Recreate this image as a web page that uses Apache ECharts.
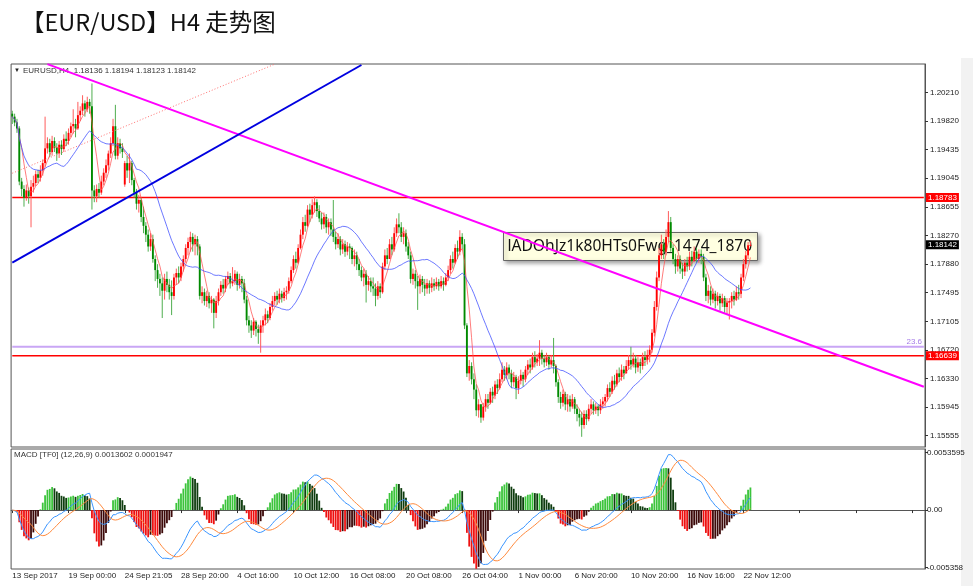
<!DOCTYPE html>
<html><head><meta charset="utf-8">
<script src="https://cdn.jsdelivr.net/npm/echarts@6/dist/echarts.min.js"></script>
<style>html,body{margin:0;padding:0;background:#fff}#c{width:973px;height:586px}</style>
</head><body><div id="c"></div><script>
// ---- data (EUR/USD H4) ----
const timeLabels = ['13 Sep 2017','19 Sep 00:00','24 Sep 21:05','28 Sep 20:00','4 Oct 16:00','10 Oct 12:00','16 Oct 08:00','20 Oct 08:00','26 Oct 04:00','1 Nov 00:00','6 Nov 20:00','10 Nov 20:00','16 Nov 16:00','22 Nov 12:00'];
const barsPerLabel = 24;
const totalSlots = 390;
const closes = [
1.1988,1.1980,1.1972,1.1900,1.1890,1.1878,1.1888,1.1880,1.1893,1.1898,
1.1910,1.1905,1.1915,1.1925,1.1945,1.1952,1.1940,1.1955,1.1946,1.1938,
1.1950,1.1944,1.1958,1.1955,1.1966,1.1975,1.1978,1.1972,1.1990,1.1996,
1.2006,1.1998,1.2008,1.2002,1.1888,1.1880,1.1890,1.1885,1.1900,1.1912,
1.1922,1.1938,1.1952,1.1975,1.1935,1.1952,1.1945,1.1940,1.1925,1.1915,
1.1925,1.1902,1.1885,1.1870,1.1875,1.1852,1.1840,1.1828,1.1812,1.1822,
1.1795,1.1780,1.1768,1.1762,1.1752,1.1768,1.1760,1.1750,1.1745,1.1770,
1.1776,1.1770,1.1785,1.1795,1.1810,1.1818,1.1825,1.1815,1.1822,1.1812,
1.1745,1.1750,1.1738,1.1745,1.1735,1.1740,1.1722,1.1738,1.1750,1.1760,
1.1755,1.1768,1.1772,1.1762,1.1765,1.1775,1.1760,1.1768,1.1762,1.1740,
1.1712,1.1705,1.1698,1.1710,1.1700,1.1695,1.1705,1.1712,1.1720,1.1715,
1.1730,1.1738,1.1745,1.1740,1.1748,1.1742,1.1750,1.1752,1.1765,1.1780,
1.1795,1.1790,1.1810,1.1828,1.1845,1.1840,1.1862,1.1855,1.1868,1.1872,
1.1860,1.1850,1.1842,1.1852,1.1838,1.1845,1.1835,1.1825,1.1815,1.1822,
1.1808,1.1815,1.1805,1.1812,1.1810,1.1795,1.1800,1.1788,1.1780,1.1770,
1.1775,1.1760,1.1765,1.1758,1.1755,1.1745,1.1758,1.1750,1.1785,1.1800,
1.1795,1.1815,1.1808,1.1830,1.1842,1.1838,1.1825,1.1830,1.1812,1.1800,
1.1768,1.1775,1.1765,1.1758,1.1768,1.1760,1.1755,1.1762,1.1756,1.1762,
1.1758,1.1764,1.1758,1.1765,1.1760,1.1770,1.1780,1.1795,1.1790,1.1810,
1.1805,1.1825,1.1815,1.1705,1.1640,1.1650,1.1632,1.1618,1.1590,1.1598,
1.1580,1.1595,1.1605,1.1600,1.1615,1.1610,1.1625,1.1620,1.1632,1.1645,
1.1638,1.1648,1.1640,1.1628,1.1635,1.1620,1.1630,1.1638,1.1632,1.1645,
1.1652,1.1648,1.1662,1.1655,1.1660,1.1668,1.1660,1.1655,1.1662,1.1652,
1.1658,1.1650,1.1628,1.1608,1.1600,1.1612,1.1598,1.1605,1.1595,1.1605,
1.1592,1.1585,1.1580,1.1570,1.1585,1.1578,1.1592,1.1598,1.1590,1.1595,
1.1590,1.1598,1.1602,1.1608,1.1620,1.1615,1.1630,1.1625,1.1640,1.1635,
1.1645,1.1640,1.1650,1.1658,1.1652,1.1660,1.1648,1.1655,1.1650,1.1662,
1.1658,1.1665,1.1672,1.1695,1.1730,1.1770,1.1800,1.1815,1.1805,1.1825,
1.1845,1.1810,1.1795,1.1785,1.1795,1.1782,1.1778,1.1790,1.1785,1.1798,
1.1792,1.1805,1.1795,1.1802,1.1798,1.1770,1.1745,1.1752,1.1740,1.1748,
1.1738,1.1745,1.1735,1.1742,1.1730,1.1736,1.1738,1.1745,1.1740,1.1750,
1.1748,1.1770,1.1788,1.1800,1.18136,1.18142];
const highs = [
1.1996,1.1992,1.1985,1.1975,1.1905,1.1895,1.1896,1.1892,1.1902,1.1908,
1.1915,1.1916,1.1922,1.1930,1.1988,1.1960,1.1958,1.1962,1.1960,1.1952,
1.1955,1.1956,1.1964,1.1968,1.1972,1.1980,1.1998,1.1985,1.2008,1.2002,
1.2017,1.2010,1.2015,1.2012,1.2033,1.1895,1.1896,1.1898,1.1908,1.1918,
1.1930,1.1942,1.1960,1.1985,1.2004,1.1960,1.1958,1.1952,1.1928,1.1935,
1.1938,1.1928,1.1905,1.1890,1.1882,1.1878,1.1866,1.1845,1.1835,1.1830,
1.1828,1.1800,1.1788,1.1775,1.1770,1.1775,1.1778,1.1768,1.1766,1.1775,
1.1782,1.1785,1.1790,1.1800,1.1815,1.1824,1.1832,1.1830,1.1828,1.1826,
1.1815,1.1758,1.1755,1.1752,1.1750,1.1745,1.1742,1.1745,1.1755,1.1765,
1.1768,1.1772,1.1778,1.1776,1.1784,1.1780,1.1778,1.1775,1.1772,1.1768,
1.1745,1.1718,1.1712,1.1715,1.1712,1.1706,1.1712,1.1718,1.1728,1.1725,
1.1735,1.1745,1.1750,1.1752,1.1755,1.1752,1.1756,1.1758,1.1770,1.1785,
1.1800,1.1805,1.1815,1.1835,1.1852,1.1855,1.1868,1.1870,1.1876,1.1880,
1.1876,1.1868,1.1858,1.1858,1.1856,1.1850,1.1850,1.1875,1.1832,1.1830,
1.1826,1.1822,1.1820,1.1818,1.1816,1.1812,1.1808,1.1805,1.1795,1.1785,
1.1782,1.1780,1.1772,1.1770,1.1770,1.1762,1.1765,1.1762,1.1790,1.1808,
1.1810,1.1822,1.1825,1.1838,1.1850,1.1857,1.1845,1.1838,1.1835,1.1818,
1.1805,1.1782,1.1780,1.1772,1.1774,1.1772,1.1768,1.1768,1.1766,1.1770,
1.1768,1.1770,1.1768,1.1772,1.1770,1.1776,1.1786,1.1800,1.1805,1.1815,
1.1820,1.1834,1.1830,1.1822,1.1708,1.1658,1.1655,1.1640,1.1625,1.1605,
1.1598,1.1600,1.1612,1.1612,1.1620,1.1622,1.1630,1.1632,1.1640,1.1655,
1.1650,1.1655,1.1652,1.1645,1.1642,1.1638,1.1636,1.1645,1.1642,1.1650,
1.1658,1.1660,1.1668,1.1670,1.1666,1.1685,1.1672,1.1665,1.1668,1.1665,
1.1665,1.1688,1.1652,1.1632,1.1615,1.1618,1.1615,1.1612,1.1610,1.1612,
1.1608,1.1598,1.1592,1.1588,1.1590,1.1590,1.1598,1.1605,1.1602,1.1600,
1.1598,1.1605,1.1608,1.1612,1.1625,1.1628,1.1636,1.1638,1.1645,1.1648,
1.1652,1.1650,1.1658,1.1665,1.1676,1.1668,1.1665,1.1662,1.1660,1.1668,
1.1670,1.1672,1.1678,1.1700,1.1738,1.1778,1.1810,1.1828,1.1822,1.1835,
1.1860,1.1852,1.1815,1.1802,1.1800,1.1800,1.1790,1.1795,1.1798,1.1805,
1.1806,1.1812,1.1810,1.1808,1.1808,1.1802,1.1775,1.1760,1.1758,1.1755,
1.1752,1.1750,1.1748,1.1748,1.1745,1.1742,1.1742,1.1750,1.1752,1.1758,
1.1760,1.1775,1.1795,1.1806,1.1818,1.18194];
const lows = [
1.1978,1.1975,1.1966,1.1895,1.1880,1.1866,1.1874,1.1870,1.1838,1.1885,
1.1894,1.1898,1.1900,1.1908,1.1920,1.1938,1.1933,1.1935,1.1940,1.1928,
1.1932,1.1936,1.1940,1.1948,1.1950,1.1960,1.1965,1.1960,1.1970,1.1982,
1.1990,1.1988,1.1994,1.1992,1.1862,1.1872,1.1872,1.1878,1.1882,1.1895,
1.1905,1.1915,1.1932,1.1948,1.1930,1.1930,1.1938,1.1932,1.1893,1.1905,
1.1898,1.1895,1.1878,1.1862,1.1858,1.1845,1.1830,1.1818,1.1805,1.1806,
1.1790,1.1765,1.1756,1.1745,1.1715,1.1740,1.1750,1.1740,1.1719,1.1740,
1.1760,1.1762,1.1765,1.1778,1.1790,1.1800,1.1805,1.1805,1.1800,1.1800,
1.1740,1.1735,1.1732,1.1730,1.1728,1.1722,1.1701,1.1715,1.1732,1.1745,
1.1748,1.1750,1.1760,1.1755,1.1758,1.1760,1.1752,1.1755,1.1750,1.1735,
1.1705,1.1695,1.1688,1.1692,1.1690,1.1680,1.1668,1.1695,1.1705,1.1708,
1.1712,1.1725,1.1732,1.1733,1.1735,1.1736,1.1738,1.1740,1.1748,1.1762,
1.1776,1.1782,1.1788,1.1808,1.1822,1.1832,1.1838,1.1845,1.1850,1.1858,
1.1852,1.1845,1.1835,1.1836,1.1830,1.1828,1.1826,1.1818,1.1808,1.1810,
1.1800,1.1802,1.1798,1.1800,1.1795,1.1788,1.1785,1.1780,1.1772,1.1765,
1.1758,1.1736,1.1752,1.1750,1.1745,1.1731,1.1740,1.1742,1.1748,1.1780,
1.1788,1.1795,1.1800,1.1805,1.1825,1.1830,1.1818,1.1815,1.1805,1.1795,
1.1762,1.1760,1.1755,1.1726,1.1748,1.1750,1.1745,1.1748,1.1748,1.1750,
1.1752,1.1754,1.1752,1.1755,1.1752,1.1758,1.1765,1.1775,1.1782,1.1788,
1.1795,1.1800,1.1808,1.1700,1.1635,1.1630,1.1625,1.1605,1.1582,1.1580,
1.1573,1.1576,1.1588,1.1592,1.1598,1.1600,1.1605,1.1612,1.1618,1.1628,
1.1630,1.1632,1.1632,1.1620,1.1622,1.1605,1.1612,1.1625,1.1622,1.1628,
1.1638,1.1640,1.1645,1.1648,1.1650,1.1650,1.1652,1.1648,1.1650,1.1645,
1.1648,1.1640,1.1622,1.1600,1.1592,1.1595,1.1590,1.1588,1.1588,1.1592,
1.1585,1.1575,1.1568,1.1554,1.1565,1.1570,1.1575,1.1585,1.1584,1.1585,
1.1582,1.1585,1.1592,1.1595,1.1602,1.1608,1.1612,1.1618,1.1622,1.1628,
1.1630,1.1632,1.1640,1.1645,1.1645,1.1648,1.1640,1.1642,1.1640,1.1645,
1.1650,1.1652,1.1655,1.1668,1.1690,1.1725,1.1765,1.1795,1.1795,1.1800,
1.1818,1.1805,1.1788,1.1775,1.1778,1.1775,1.1768,1.1772,1.1778,1.1780,
1.1785,1.1792,1.1790,1.1790,1.1788,1.1765,1.1738,1.1735,1.1732,1.1735,
1.1728,1.1732,1.1725,1.1730,1.1722,1.1720,1.1713,1.1728,1.1732,1.1738,
1.1740,1.1742,1.1765,1.1782,1.1795,1.18123];
const firstOpen = 1.1992;
const gapOpens = [[48, 1.1896]];
const priceTicks = [1.20210,1.19820,1.19435,1.19045,1.18655,1.18270,1.17880,1.17495,1.17105,1.16720,1.16330,1.15945,1.15555];
const priceRange = [1.154018, 1.205936];
const macdTicks = [-0.005358, 0, 0.0053595];
const macdTickLabels = ['-0.005358', '0.00', '0.0053595'];
const macdRange = [-0.0055, 0.0057];
const resistance = 1.18783, support = 1.16639, fib236 = 1.16761, lastPrice = 1.18142;
const trendMagenta = [[15, 1.20592], [389, 1.16219]];
const trendBlue = [[0, 1.1790], [149, 1.2058]];
const trendDotted = [[0, 1.19113], [112, 1.20591]];

// ---- derived ----
const categories = Array.from({length: totalSlots}, (_, i) => (i % barsPerLabel === 0 && timeLabels[i / barsPerLabel]) ? timeLabels[i / barsPerLabel] : '');
const opens = closes.map((c, i) => i === 0 ? firstOpen : closes[i - 1]);
gapOpens.forEach(([i, o]) => { opens[i] = o; });
const candles = closes.map((c, i) => [i, opens[i], c, Math.min(lows[i], opens[i], c), Math.max(highs[i], opens[i], c)]);
function sma(arr, n) { return arr.map((_, i) => { const s = Math.max(0, i - n + 1); let t = 0; for (let k = s; k <= i; k++) t += arr[k]; return +(t / (i - s + 1)).toFixed(6); }); }
function ema(arr, n) { const a = 2 / (n + 1); let e = arr[0]; return arr.map((v, i) => (e = i ? e + a * (v - e) : v)); }
const ma5 = sma(closes, 5), ma20 = sma(closes, 20);
const e12 = ema(closes, 12), e26 = ema(closes, 26);
const macd = e12.map((v, i) => v - e26[i]);
const signal = sma(macd, 9);
const hist = macd.map((v, i) => 2 * (v - signal[i]));
const histData = hist.map((v, i) => {
  const prev = i ? hist[i - 1] : 0;
  let col;
  if (v >= 0) col = v >= prev ? '#3cc43c' : '#0f3d0f';
  else col = v <= prev ? '#ee1010' : '#3d0a0a';
  return {value: v, itemStyle: {color: col}};
});
const lastSlot = totalSlots - 1;
const hLine = (v) => [[0, v], [lastSlot, v]];

const chart = echarts.init(document.getElementById('c'), null, {renderer: 'canvas'});
const FONT = 'Liberation Sans';
const tickShow = (i) => i % barsPerLabel === 0;

function renderCandle(params, api) {
  const i = api.value(0), o = api.value(1), c = api.value(2), l = api.value(3), h = api.value(4);
  const pO = api.coord([i, o]), pC = api.coord([i, c]), pL = api.coord([i, l]), pH = api.coord([i, h]);
  const up = c >= o;
  const w = Math.max(1.6, api.size([1, 0])[0] * 0.8);
  const x = pO[0];
  const top = Math.min(pO[1], pC[1]);
  const bh = Math.max(1, Math.abs(pO[1] - pC[1]));
  return {type: 'group', children: [
    {type: 'line', shape: {x1: x, y1: pH[1], x2: x, y2: pL[1]}, style: {stroke: up ? '#ff5c5c' : '#4fae4f', lineWidth: 1}},
    {type: 'rect', shape: {x: x - w / 2, y: top, width: w, height: bh}, style: {fill: up ? '#ff0000' : '#008a00'}}
  ]};
}

const tagLabel = (txt, bg) => ({show: true, position: 'end', formatter: txt, color: '#fff', backgroundColor: bg, padding: [1, 2, 0, 2], fontSize: 8, fontFamily: FONT, distance: 1});
const levelSeries = (name, v, color, width) => ({type: 'line', name, xAxisIndex: 0, yAxisIndex: 0, data: hLine(v), showSymbol: false, symbol: 'none', lineStyle: {color, width, type: 'solid'}, itemStyle: {color}, z: 2, silent: true});

const option = {
  animation: false,
  backgroundColor: '#ffffff',
  textStyle: {fontFamily: FONT},
  grid: [
    {left: 11.1, right: 48, top: 64, height: 383, show: true, borderColor: '#555', borderWidth: 1, outerBoundsMode: 'none'},
    {left: 11.1, right: 48, top: 449, height: 120, show: true, borderColor: '#555', borderWidth: 1, outerBoundsMode: 'none'}
  ],
  xAxis: [
    {type: 'category', gridIndex: 0, data: categories, boundaryGap: true, axisLine: {show: false}, axisTick: {show: false}, axisLabel: {show: false}, splitLine: {show: false}},
    {type: 'category', gridIndex: 1, data: categories, boundaryGap: true,
     axisLine: {show: true, lineStyle: {color: '#555'}},
     axisTick: {show: true, interval: tickShow, alignWithLabel: true, length: 3, lineStyle: {color: '#333'}},
     axisLabel: {show: true, interval: tickShow, align: 'left', margin: 3, fontSize: 8, color: '#222', fontFamily: FONT},
     splitLine: {show: false}}
  ],
  yAxis: [
    {type: 'value', gridIndex: 0, position: 'right', min: priceRange[0], max: priceRange[1], scale: true,
     axisLine: {show: true, lineStyle: {color: '#555'}},
     axisTick: {show: true, length: 3, customValues: priceTicks, lineStyle: {color: '#333'}},
     axisLabel: {show: true, customValues: priceTicks, formatter: v => v.toFixed(5), fontSize: 8, color: '#222', margin: 5, fontFamily: FONT},
     splitLine: {show: false}},
    {type: 'value', gridIndex: 1, position: 'right', min: macdRange[0], max: macdRange[1],
     axisLine: {show: true, lineStyle: {color: '#555'}},
     axisTick: {show: true, length: 3, customValues: macdTicks, lineStyle: {color: '#333'}},
     axisLabel: {show: true, customValues: macdTicks, formatter: v => macdTickLabels[macdTicks.indexOf(v)] ?? (Math.abs(v) < 1e-9 ? '0.00' : String(v)), fontSize: 8, color: '#222', margin: 2, fontFamily: FONT},
     splitLine: {show: false}}
  ],
  series: [
    levelSeries('fib 23.6', fib236, '#c9a6f5', 2),
    levelSeries('resistance', resistance, '#ff0000', 1.5),
    levelSeries('support', support, '#ff0000', 1.5),
    {type: 'custom', name: 'EURUSD', xAxisIndex: 0, yAxisIndex: 0, renderItem: renderCandle, data: candles, encode: {x: 0, y: [1, 2, 3, 4]}, clip: true, z: 3},
    {type: 'line', name: 'MA5', xAxisIndex: 0, yAxisIndex: 0, data: ma5, showSymbol: false, symbol: 'none', lineStyle: {color: '#ff5050', width: 1, opacity: 0.75}, z: 4},
    {type: 'line', name: 'MA20', xAxisIndex: 0, yAxisIndex: 0, data: ma20, showSymbol: false, symbol: 'none', lineStyle: {color: '#3b4bff', width: 1, opacity: 0.75}, z: 4,
     markLine: {symbol: 'none', silent: true, animation: false, precision: 5, data: [
       {yAxis: fib236, lineStyle: {color: 'rgba(0,0,0,0)', width: 1}, label: {show: true, position: 'insideEndTop', formatter: '23.6', color: '#a57be8', fontSize: 8, fontFamily: FONT, distance: [3, 1]}},
       {yAxis: resistance, lineStyle: {color: 'rgba(0,0,0,0)', width: 1}, label: tagLabel('1.18783', '#ff0000')},
       {yAxis: support, lineStyle: {color: 'rgba(0,0,0,0)', width: 1}, label: tagLabel('1.16639', '#ff0000')},
       {yAxis: lastPrice, lineStyle: {color: 'rgba(0,0,0,0)', width: 1}, label: tagLabel('1.18142', '#000000')}
     ]}},
    {type: 'line', name: 'trend1', xAxisIndex: 0, yAxisIndex: 0, data: trendMagenta, showSymbol: false, symbol: 'none', lineStyle: {color: '#ff00ff', width: 2}, z: 5, clip: true},
    {type: 'line', name: 'trend2', xAxisIndex: 0, yAxisIndex: 0, data: trendBlue, showSymbol: false, symbol: 'none', lineStyle: {color: '#0000e0', width: 2}, z: 5, clip: true},
    {type: 'line', name: 'trend3', xAxisIndex: 0, yAxisIndex: 0, data: trendDotted, showSymbol: false, symbol: 'none', lineStyle: {color: '#ff7070', width: 1, type: [1, 2]}, z: 5, clip: true},
    {type: 'bar', name: 'MACD hist', xAxisIndex: 1, yAxisIndex: 1, data: histData, barWidth: 1.8, clip: true},
    {type: 'line', name: 'MACD', xAxisIndex: 1, yAxisIndex: 1, data: macd, showSymbol: false, symbol: 'none', lineStyle: {color: '#3a95ff', width: 1}, clip: true},
    {type: 'line', name: 'Signal', xAxisIndex: 1, yAxisIndex: 1, data: signal, showSymbol: false, symbol: 'none', lineStyle: {color: '#ff8a3d', width: 1}, clip: true}
  ],
  graphic: [
    {type: 'rect', left: 961, top: 58, shape: {width: 12, height: 528}, style: {fill: '#f2f2f2'}, silent: true},
    {type: 'text', left: 21, top: 10, style: {text: '【EUR/USD】H4 走势图', fontSize: 23.5, fontFamily: 'Noto Sans CJK SC', fill: '#111'}},
    {type: 'text', left: 14, top: 67, style: {text: '▼', fontSize: 6, fill: '#222'}},
    {type: 'text', left: 23, top: 67, style: {text: 'EURUSD,H4  1.18136 1.18194 1.18123 1.18142', fontSize: 8, fontFamily: FONT, fill: '#333'}},
    {type: 'text', left: 14, top: 451, style: {text: 'MACD [TF0] (12,26,9) 0.0013602 0.0001947', fontSize: 8, fontFamily: FONT, fill: '#333'}},
    {type: 'group', left: 503, top: 232, children: [
      {type: 'rect', shape: {x: 0, y: 0, width: 254, height: 28}, style: {fill: '#ffffe1', stroke: '#666', lineWidth: 1, shadowBlur: 4, shadowColor: 'rgba(0,0,0,0.35)', shadowOffsetX: 2, shadowOffsetY: 2}},
      {type: 'text', x: 4, y: 14, style: {text: 'lADOhJz1k80HTs0Fwg_1474_1870', fontSize: 15.6, fontFamily: 'Noto Sans', fill: '#111', verticalAlign: 'middle'}}
    ]}
  ]
};
chart.setOption(option);
</script></body></html>
